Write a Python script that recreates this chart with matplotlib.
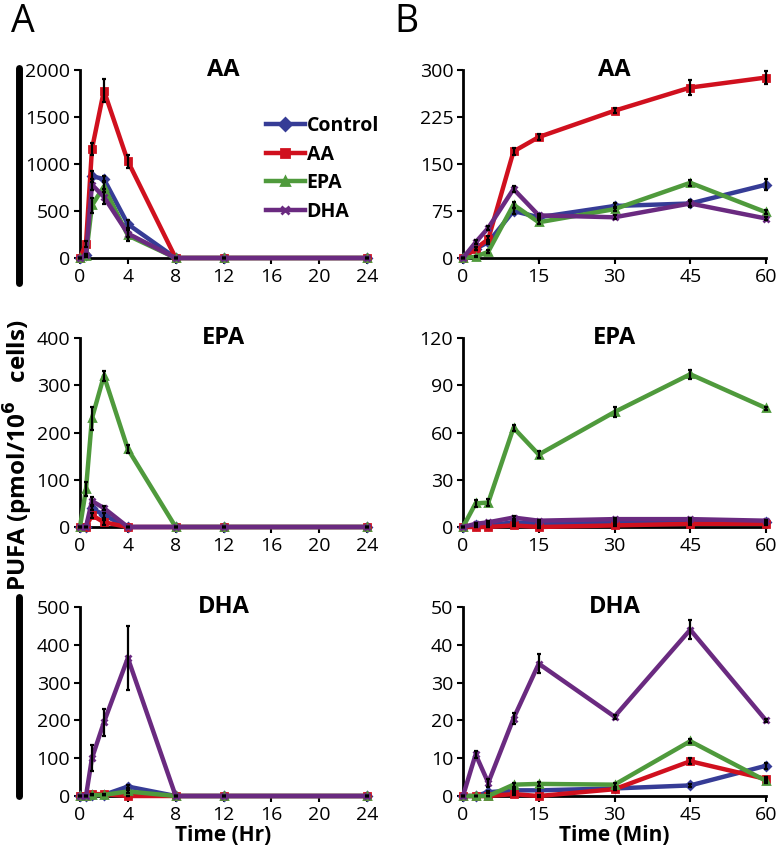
import numpy as np
import matplotlib
matplotlib.use("Agg")
import matplotlib.pyplot as plt
from matplotlib.lines import Line2D

plt.rcParams['font.family'] = ['Open Sans', 'DejaVu Sans']

# --- Data ---
groups = ["Control", "AA", "EPA", "DHA"]
colors = {"Control": "#363C96", "AA": "#D0101E", "EPA": "#4F9A3C", "DHA": "#6A2A80"}
markers = {"Control": "D", "AA": "s", "EPA": "^", "DHA": "x"}

t_hr = [0, 0.5, 1, 2, 4, 8, 12, 24]
t_min = [0, 2.5, 5, 10, 15, 30, 45, 60]

# panel A (hours)
hr_AA = {
    "Control": [0, 30, 870, 840, 360, 0, 0, 0],
    "AA": [0, 150, 1160, 1780, 1030, 0, 0, 0],
    "EPA": [0, 20, 560, 760, 240, 0, 0, 0],
    "DHA": [0, 30, 780, 650, 260, 0, 0, 0],
}
hr_AA_err = {
    "Control": [0, 10, 60, 30, 40, 0, 0, 0],
    "AA": [0, 30, 60, 120, 70, 0, 0, 0],
    "EPA": [0, 10, 80, 60, 60, 0, 0, 0],
    "DHA": [0, 10, 60, 80, 40, 0, 0, 0],
}
hr_EPA = {
    "Control": [0, 0, 40, 25, 0, 0, 0, 0],
    "AA": [0, 0, 25, 10, 0, 0, 0, 0],
    "EPA": [0, 80, 230, 320, 165, 0, 0, 0],
    "DHA": [0, 0, 55, 40, 0, 0, 0, 0],
}
hr_EPA_err = {
    "Control": [0, 0, 5, 5, 0, 0, 0, 0],
    "AA": [0, 0, 5, 5, 0, 0, 0, 0],
    "EPA": [0, 15, 25, 10, 8, 0, 0, 0],
    "DHA": [0, 0, 8, 5, 0, 0, 0, 0],
}
hr_DHA = {
    "Control": [0, 0, 3, 3, 25, 0, 0, 0],
    "AA": [0, 0, 5, 5, 0, 0, 0, 0],
    "EPA": [0, 0, 2, 3, 12, 0, 0, 0],
    "DHA": [0, 0, 100, 195, 365, 0, 0, 0],
}
hr_DHA_err = {
    "Control": [0, 0, 0, 0, 5, 0, 0, 0],
    "AA": [0, 0, 0, 0, 0, 0, 0, 0],
    "EPA": [0, 0, 0, 0, 3, 0, 0, 0],
    "DHA": [0, 0, 35, 35, 85, 0, 0, 0],
}

# panel B (minutes)
min_AA = {
    "Control": [0, 15, 25, 75, 65, 83, 87, 117],
    "AA": [0, 15, 30, 170, 193, 235, 272, 288],
    "EPA": [0, 2, 10, 85, 57, 78, 120, 73],
    "DHA": [0, 25, 48, 110, 68, 65, 87, 63],
}
min_AA_err = {
    "Control": [0, 2, 3, 4, 3, 4, 6, 9],
    "AA": [0, 3, 5, 5, 5, 4, 12, 10],
    "EPA": [0, 1, 2, 5, 3, 3, 5, 3],
    "DHA": [0, 3, 3, 5, 3, 3, 4, 3],
}
min_EPA = {
    "Control": [0, 1, 1, 3, 2, 3, 3, 3],
    "AA": [0, 0, 0, 1, 0, 1, 2, 2],
    "EPA": [0, 15, 15.5, 63, 46, 73, 97, 75.5],
    "DHA": [0, 2, 3, 6, 4, 5, 5, 4],
}
min_EPA_err = {
    "Control": [0, 0.3, 0.3, 0.5, 0.5, 0.5, 0.5, 0.5],
    "AA": [0, 0.3, 0.3, 0.5, 0.5, 0.5, 0.5, 0.5],
    "EPA": [0, 2, 2, 2, 2, 3, 3, 1],
    "DHA": [0, 0.5, 0.5, 0.8, 0.5, 0.5, 0.8, 0.5],
}
min_DHA = {
    "Control": [0, 0, 1, 1.5, 1.5, 2, 2.8, 8],
    "AA": [0, 0, 0, 0.5, 0, 1.8, 9.2, 4.5],
    "EPA": [0, 0, 0, 3, 3.2, 3, 14.5, 4],
    "DHA": [0, 11, 3.5, 20.5, 35, 21, 44, 20],
}
min_DHA_err = {
    "Control": [0, 0, 0.3, 0.3, 0.3, 0.3, 0.5, 0.8],
    "AA": [0, 0, 0, 0.3, 0.3, 0.3, 0.8, 0.5],
    "EPA": [0, 0, 0, 0.5, 0.5, 0.5, 0.5, 0.5],
    "DHA": [0, 1, 1, 1.5, 2.5, 0.5, 2.5, 0.5],
}

panels = [
    # (row, col, title, x, data, err, yticks, xticks)
    (0, 0, "AA", t_hr, hr_AA, hr_AA_err, [0, 500, 1000, 1500, 2000], [0, 4, 8, 12, 16, 20, 24]),
    (0, 1, "AA", t_min, min_AA, min_AA_err, [0, 75, 150, 225, 300], [0, 15, 30, 45, 60]),
    (1, 0, "EPA", t_hr, hr_EPA, hr_EPA_err, [0, 100, 200, 300, 400], [0, 4, 8, 12, 16, 20, 24]),
    (1, 1, "EPA", t_min, min_EPA, min_EPA_err, [0, 30, 60, 90, 120], [0, 15, 30, 45, 60]),
    (2, 0, "DHA", t_hr, hr_DHA, hr_DHA_err, [0, 100, 200, 300, 400, 500], [0, 4, 8, 12, 16, 20, 24]),
    (2, 1, "DHA", t_min, min_DHA, min_DHA_err, [0, 10, 20, 30, 40, 50], [0, 15, 30, 45, 60]),
]

# --- Figure ---
W, H = 780, 855
fig = plt.figure(figsize=(W / 100, H / 100), dpi=100)

col_x = [(80, 367), (463, 766)]
row_y = [(70, 258), (338, 527), (607, 796)]

axes = {}
for row, col, title, x, data, err, yticks, xticks in panels:
    x0, x1 = col_x[col]
    ytop, ybot = row_y[row]
    ax = fig.add_axes([x0 / W, 1 - ybot / H, (x1 - x0) / W, (ybot - ytop) / H])
    axes[(row, col)] = ax
    for g in groups:
        ax.plot(x, data[g], color=colors[g], lw=3.2, marker=markers[g],
                ms=4.5 if markers[g] != "x" else 5, mew=2, clip_on=False, zorder=3)
        ax.errorbar(x, data[g], yerr=err[g], fmt="none", ecolor="black",
                    elinewidth=1.6, capsize=1.5, capthick=1.6, zorder=4, clip_on=False)
    ax.set_xlim(xticks[0], xticks[-1])
    ax.set_ylim(yticks[0], yticks[-1])
    ax.set_xticks(xticks)
    ax.set_yticks(yticks)
    for s in ["top", "right"]:
        ax.spines[s].set_visible(False)
    for s in ["left", "bottom"]:
        ax.spines[s].set_linewidth(2)
        ax.spines[s].set_color("black")
    ax.tick_params(axis="both", direction="out", length=4, width=1.5,
                   labelsize=14, colors="black", pad=3)
    ax.text(0.5, 1.0, title, transform=ax.transAxes, ha="center", va="center",
            fontsize=17, fontweight="bold")

axes[(2, 0)].set_xlabel("Time (Hr)", fontsize=15, fontweight="bold", labelpad=1)
axes[(2, 1)].set_xlabel("Time (Min)", fontsize=15, fontweight="bold", labelpad=1)

# legend in top-left panel
handles = [Line2D([0], [0], color=colors[g], lw=3.2, marker=markers[g], ms=6, mew=2)
           for g in groups]
leg = axes[(0, 0)].legend(handles, groups, loc="upper left",
                          bbox_to_anchor=((258 - 80) / 287, (258 - 108) / 188),
                          frameon=False, handlelength=2.0, handletextpad=0.1,
                          labelspacing=0.45, borderaxespad=0,
                          prop={"weight": "bold", "size": 14})

# shared y label
fig.text(18 / W, 1 - 455 / H, "PUFA (pmol/10$^{\\mathbf{6}}$   cells)", rotation=90,
         ha="center", va="center", fontsize=17.5, fontweight="bold")

# black side bars
fig.add_artist(Line2D([19 / W, 19 / W], [1 - 68 / H, 1 - 283 / H], color="black",
                      lw=5, solid_capstyle="round"))
fig.add_artist(Line2D([19 / W, 19 / W], [1 - 597 / H, 1 - 796 / H], color="black",
                      lw=5, solid_capstyle="round"))

# panel letters
fig.text(11 / W, 1 - 22 / H, "A", fontsize=27, ha="left", va="center")
fig.text(394 / W, 1 - 22 / H, "B", fontsize=27, ha="left", va="center")

fig.savefig("out.png", dpi=100)
